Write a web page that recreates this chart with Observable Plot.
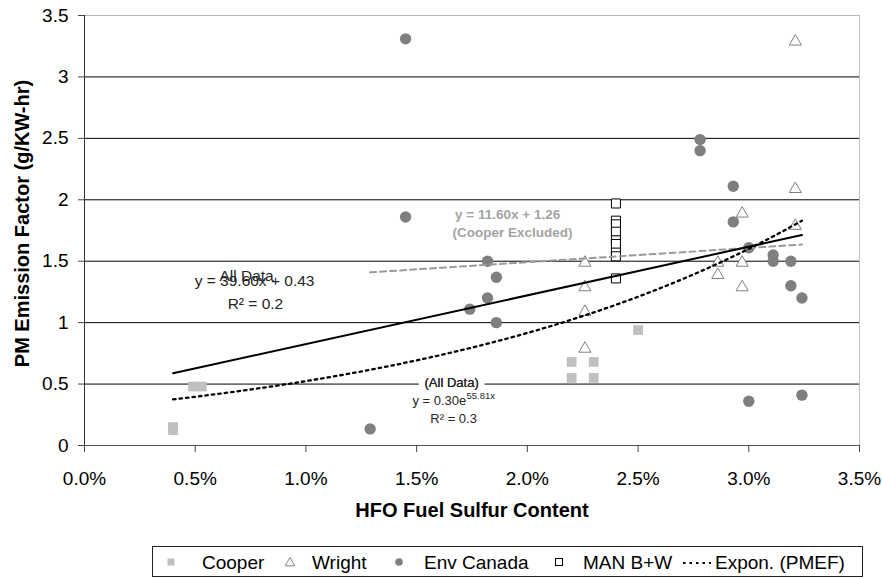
<!DOCTYPE html>
<html><head><meta charset="utf-8">
<script src="https://cdn.jsdelivr.net/npm/d3@7"></script>
<script src="https://cdn.jsdelivr.net/npm/@observablehq/plot@0.6"></script>
<style>
body{margin:0;background:#fff;font-family:"Liberation Sans",Arial,sans-serif;}
#wrap{position:relative;width:882px;height:578px;background:#fff;}
#legend{position:absolute;left:152px;top:546px;}
</style></head><body><div id="wrap"></div>
<script>
// ---- tick values ----
const xTicks = [0, 0.005, 0.010, 0.015, 0.020, 0.025, 0.030, 0.035];
const yTicks = [0, 0.5, 1, 1.5, 2, 2.5, 3, 3.5];

// ---- series (fuel sulfur fraction, PM g/kW-hr) ----
const cooperX = [0.0040, 0.0040, 0.0049, 0.0053, 0.0220, 0.0230, 0.0220, 0.0230, 0.0250];
const cooperY = [0.15, 0.125, 0.48, 0.48, 0.68, 0.68, 0.55, 0.55, 0.94];

const wrightX = [0.0226, 0.0226, 0.0226, 0.0226, 0.0286, 0.0286, 0.0297, 0.0297, 0.0297, 0.0321, 0.0321, 0.0321];
const wrightY = [1.50, 1.30, 1.10, 0.80, 1.50, 1.40, 1.90, 1.50, 1.30, 3.30, 2.10, 1.80];

const envX = [0.0145, 0.0145, 0.0129, 0.0182, 0.0186, 0.0182, 0.0174, 0.0186, 0.0278, 0.0278,
              0.0293, 0.0293, 0.0300, 0.0311, 0.0311, 0.0319, 0.0319, 0.0324, 0.0300, 0.0324];
const envY = [3.31, 1.86, 0.135, 1.50, 1.37, 1.20, 1.11, 1.00, 2.49, 2.40,
              2.11, 1.82, 1.61, 1.55, 1.50, 1.50, 1.30, 1.20, 0.36, 0.41];

const manX = [0.024, 0.024, 0.024, 0.024, 0.024, 0.024, 0.024, 0.024, 0.024];
const manY = [1.97, 1.83, 1.80, 1.74, 1.67, 1.64, 1.57, 1.54, 1.36];

// ---- trendline equations as printed on the chart ----
const linAllSlope = 39.60, linAllIntercept = 0.43;          // All Data, linear
const linNoCooperSlope = 11.60, linNoCooperIntercept = 1.26; // Cooper excluded
const expA = 0.30, expB = 55.81;                              // Expon. (PMEF)
const allRange = [0.0040, 0.0324];
const noCooperRange = [0.0129, 0.0324];

// ---- labels ----
const xTitle = "HFO Fuel Sulfur Content";
const yTitle = "PM Emission Factor (g/KW-hr)";
const legendNames = ["Cooper", "Wright", "Env Canada", "MAN B+W", "Expon. (PMEF)"];

const F = "'Liberation Sans', Arial, sans-serif";
const zip = (xs, ys) => xs.map((x, i) => ({x, y: ys[i]}));
const cooper = zip(cooperX, cooperY), wright = zip(wrightX, wrightY),
      env = zip(envX, envY), man = zip(manX, manY);

const linAll = allRange.map(x => ({x, y: linAllSlope * x + linAllIntercept}));
const linNoCooper = noCooperRange.map(x => ({x, y: linNoCooperSlope * x + linNoCooperIntercept}));
const expCurve = d3.range(0, 41).map(i => {
  const x = allRange[0] + (allRange[1] - allRange[0]) * i / 40;
  return {x, y: expA * Math.exp(expB * x)};
});

const annDark = "#262626", annGray = "#a3a3a3";

const plot = Plot.plot({
  width: 882, height: 540,
  marginLeft: 84, marginRight: 23, marginTop: 15, marginBottom: 95,
  style: {fontFamily: F, fontSize: "19px", background: "#fff", color: "#000"},
  x: {domain: [0, 0.035]},
  y: {domain: [0, 3.5]},
  marks: [
    Plot.ruleY(yTicks.filter(d => d > 0 && d < 3.5), {stroke: "#000", strokeWidth: 1}),
    Plot.ruleY([3.5], {stroke: "#b8b8b8"}),
    Plot.ruleX([0.035], {stroke: "#c0c0c0"}),
    Plot.ruleY([0], {stroke: "#555"}),
    Plot.ruleX([0], {stroke: "#333", y1: 0, y2: 3.5}),
    Plot.axisX({ticks: xTicks, tickFormat: d3.format(".1%"), tickSize: 7, tickPadding: 19, label: null, stroke: "#444"}),
    Plot.axisY({ticks: yTicks, tickFormat: d => String(d), tickSize: 6, tickPadding: 10, label: null, stroke: "#444"}),
    // points
    Plot.dot(cooper, {x: "x", y: "y", symbol: "square", r: 5.5, fill: "#c0c0c0", stroke: "none"}),
    Plot.dot(wright, {x: "x", y: "y", symbol: "triangle", r: 4.5, fill: "#fff", stroke: "#808080", strokeWidth: 1, dy: 1.5}),
    Plot.dot(env, {x: "x", y: "y", symbol: "circle", r: 5.7, fill: "#7f7f7f", stroke: "none"}),
    Plot.dot(man, {x: "x", y: "y", symbol: "square", r: 5.1, fill: "#fff", stroke: "#000", strokeWidth: 1}),
    // trendlines
    Plot.line(linNoCooper, {x: "x", y: "y", stroke: "#9a9a9a", strokeWidth: 2, strokeDasharray: "6,4"}),
    Plot.line(linAll, {x: "x", y: "y", stroke: "#000", strokeWidth: 2}),
    Plot.line(expCurve, {x: "x", y: "y", stroke: "#000", strokeWidth: 2.3, strokeDasharray: "2.5,4"}),
    // annotations
    Plot.text(["All Data"], {x: 0.00732, y: 1.381, fill: annDark, fontSize: 15.5}),
    Plot.text(["y = 39.60x + 0.43"], {x: 0.00768, y: 1.340, fill: annDark, fontSize: 15.5}),
    Plot.text(["R² = 0.2"], {x: 0.00772, y: 1.153, fill: annDark, fontSize: 15.5}),
    Plot.text(["y = 11.60x + 1.26"], {x: 0.01911, y: 1.877, fill: annGray, fontSize: 13.5, fontWeight: "bold"}),
    Plot.text(["(Cooper Excluded)"], {x: 0.01933, y: 1.730, fill: annGray, fontSize: 13.5, fontWeight: "bold"}),
    Plot.text(["(All Data)"], {x: 0.01658, y: 0.510, fill: annDark, fontSize: 13, stroke: "#fff", strokeWidth: 13}),
    Plot.text(["(All Data)"], {x: 0.01658, y: 0.510, fill: annDark, fontSize: 13}),
    Plot.text(["y = 0.30e"], {x: 0.01481, y: 0.364, fill: annDark, fontSize: 13, textAnchor: "start"}),
    Plot.text(["55.81x"], {x: 0.01725, y: 0.405, fill: annDark, fontSize: 9.5, textAnchor: "start"}),
    Plot.text(["R² = 0.3"], {x: 0.01667, y: 0.217, fill: annDark, fontSize: 13}),
    // axis titles
    Plot.text([xTitle], {frameAnchor: "bottom", dy: 71, fontSize: 20, fontWeight: "bold", fill: "#000"}),
    Plot.text([yTitle], {frameAnchor: "left", textAnchor: "middle", dx: -62, dy: -7, rotate: -90, fontSize: 20, fontWeight: "bold", fill: "#000"})
  ]
});
document.getElementById("wrap").appendChild(plot);

// ---- legend (below the plot SVG) ----
const lg = d3.select("#wrap").append("svg").attr("id", "legend")
  .attr("width", 711).attr("height", 32)
  .style("font-family", F).style("font-size", "19px");
lg.append("rect").attr("x", 0.5).attr("y", 0.5).attr("width", 710).attr("height", 30)
  .attr("fill", "#fff").attr("stroke", "#222");
const cy = 16;
lg.append("path").attr("d", d3.symbol(d3.symbolSquare, 49)()).attr("transform", `translate(19,${cy})`).attr("fill", "#c0c0c0");
lg.append("path").attr("d", d3.symbol(d3.symbolTriangle, 40)()).attr("transform", `translate(138,${cy + 1})`).attr("fill", "#fff").attr("stroke", "#808080");
lg.append("circle").attr("cx", 247).attr("cy", cy).attr("r", 3.8).attr("fill", "#7f7f7f");
lg.append("rect").attr("x", 403.5).attr("y", cy - 3.5).attr("width", 7).attr("height", 7).attr("fill", "#fff").attr("stroke", "#000");
lg.append("line").attr("x1", 531).attr("x2", 559).attr("y1", cy + 1).attr("y2", cy + 1)
  .attr("stroke", "#000").attr("stroke-width", 2).attr("stroke-dasharray", "2.5,4");
const textX = [50, 160, 272, 431, 563];
legendNames.forEach((n, i) => {
  lg.append("text").attr("x", textX[i]).attr("y", cy).attr("dy", "0.35em").attr("fill", "#000").text(n);
});
</script></body></html>
